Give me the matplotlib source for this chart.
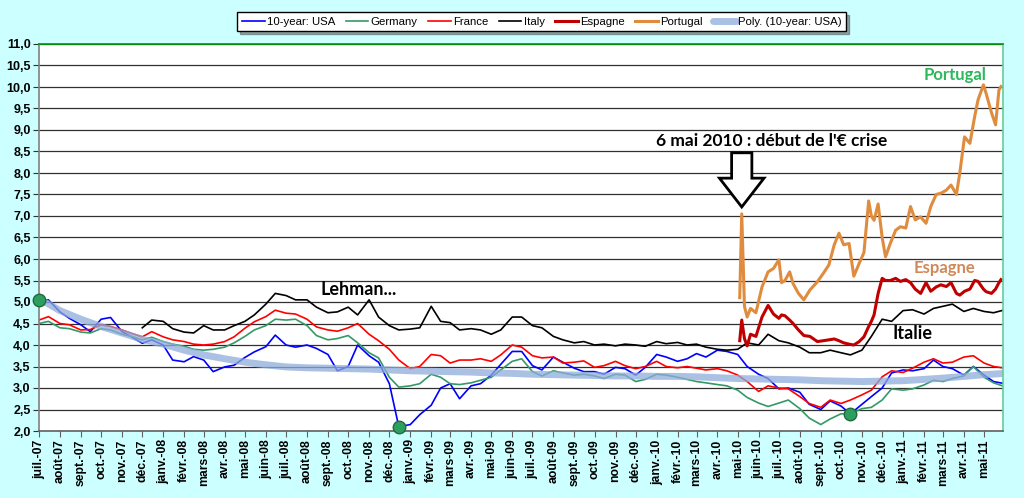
import matplotlib
matplotlib.use("Agg")
import matplotlib.pyplot as plt
import matplotlib.dates as mdates
from matplotlib.patches import FancyArrow
import numpy as np
import pandas as pd

nan = np.nan

# 10-year yields, semi-monthly readings (1st and 15th) from 1 juil. 2007
usa = [5.05, 5.05, 4.77, 4.62, 4.47, 4.31, 4.60, 4.64, 4.31, 4.19,
       4.04, 4.12, 4.00, 3.65, 3.61, 3.73, 3.65, 3.38, 3.49, 3.53,
       3.71, 3.84, 3.96, 4.23, 4.00, 3.95, 4.00, 3.92, 3.78, 3.40,
       3.50, 4.00, 3.75, 3.60, 3.10, 2.10, 2.15, 2.38, 2.60, 3.00,
       3.10, 2.75, 3.05, 3.10, 3.30, 3.55, 3.85, 3.85, 3.52, 3.42,
       3.72, 3.60, 3.46, 3.38, 3.38, 3.32, 3.48, 3.45, 3.30, 3.48,
       3.78, 3.72, 3.62, 3.68, 3.80, 3.72, 3.88, 3.85, 3.78, 3.50,
       3.32, 3.22, 2.98, 3.00, 2.90, 2.62, 2.50, 2.70, 2.58, 2.40,
       2.62, 2.80, 3.00, 3.35, 3.42, 3.40, 3.45, 3.65, 3.50, 3.45,
       3.30, 3.50, 3.30, 3.15, 3.10]
germany = [4.50, 4.55, 4.40, 4.38, 4.30, 4.28, 4.38, 4.35, 4.25, 4.20,
           4.12, 4.18, 4.08, 4.02, 3.97, 3.90, 3.88, 3.90, 3.95, 4.05,
           4.20, 4.35, 4.45, 4.60, 4.58, 4.60, 4.45, 4.22, 4.12, 4.15,
           4.22, 4.05, 3.82, 3.70, 3.25, 3.02, 3.05, 3.10, 3.32, 3.25,
           3.10, 3.08, 3.12, 3.18, 3.25, 3.42, 3.62, 3.68, 3.38, 3.28,
           3.40, 3.35, 3.30, 3.32, 3.28, 3.22, 3.32, 3.30, 3.15, 3.20,
           3.32, 3.30, 3.25, 3.20, 3.15, 3.12, 3.08, 3.05, 2.95, 2.78,
           2.65, 2.57, 2.65, 2.72, 2.52, 2.30, 2.15, 2.28, 2.40, 2.40,
           2.52, 2.55, 2.72, 2.98, 2.95, 2.98, 3.07, 3.18, 3.15, 3.22,
           3.28, 3.50, 3.25, 3.12, 3.03]
france = [4.58, 4.66, 4.50, 4.47, 4.35, 4.36, 4.47, 4.43, 4.35, 4.27,
          4.19, 4.31, 4.19, 4.12, 4.08, 4.02, 4.00, 4.02, 4.08, 4.19,
          4.39, 4.54, 4.66, 4.81, 4.74, 4.72, 4.60, 4.42, 4.35, 4.32,
          4.40, 4.50, 4.25, 4.10, 3.90, 3.65, 3.45, 3.50, 3.78, 3.75,
          3.58, 3.65, 3.65, 3.68, 3.62, 3.77, 4.00, 3.95, 3.75, 3.70,
          3.72, 3.58, 3.60, 3.63, 3.48, 3.52, 3.62, 3.52, 3.45, 3.50,
          3.62, 3.50, 3.47, 3.50, 3.46, 3.42, 3.45, 3.40, 3.30, 3.15,
          2.92, 3.05, 3.00, 2.98, 2.80, 2.64, 2.55, 2.72, 2.64, 2.72,
          2.84, 2.95, 3.26, 3.40, 3.36, 3.46, 3.60, 3.68, 3.58, 3.60,
          3.72, 3.75, 3.58, 3.50, 3.46]
italy = [nan, nan, nan, nan, nan, nan, nan, nan, nan, nan,
         4.40, 4.58, 4.55, 4.38, 4.30, 4.28, 4.45, 4.35, 4.35, 4.45,
         4.55, 4.70, 4.95, 5.20, 5.15, 5.05, 5.05, 4.88, 4.75, 4.77,
         4.88, 4.70, 5.05, 4.65, 4.45, 4.35, 4.37, 4.40, 4.90, 4.55,
         4.52, 4.35, 4.38, 4.35, 4.25, 4.35, 4.65, 4.65, 4.45, 4.40,
         4.20, 4.12, 4.05, 4.08, 4.00, 4.02, 3.98, 4.02, 4.00, 3.97,
         4.08, 4.03, 4.06, 4.00, 4.02, 3.95, 3.90, 3.88, 3.90, 4.05,
         4.00, 4.25, 4.10, 4.05, 3.95, 3.82, 3.82, 3.88, 3.82, 3.77,
         3.88, 4.20, 4.60, 4.55, 4.80, 4.82, 4.72, 4.85, 4.90, 4.95,
         4.78, 4.85, 4.78, 4.75, 4.82]

# Excel polynomial trend of the US series, monthly
trend_usa = [5.08, 4.80, 4.60, 4.43, 4.28, 4.13, 4.02, 3.88, 3.77, 3.68,
             3.60, 3.54, 3.49, 3.47, 3.46, 3.45, 3.44, 3.42, 3.40, 3.39,
             3.38, 3.37, 3.35, 3.34, 3.32, 3.31, 3.30, 3.29, 3.28, 3.28,
             3.27, 3.27, 3.26, 3.24, 3.22, 3.21, 3.20, 3.19, 3.17, 3.16,
             3.15, 3.16, 3.17, 3.20, 3.23, 3.27, 3.31, 3.34]

# Spain / Portugal only from May 2010
crise_dates = ["2010-05-04", "2010-05-07", "2010-05-11", "2010-05-15", "2010-05-20",
               "2010-05-28", "2010-06-06", "2010-06-15", "2010-06-23", "2010-07-01",
               "2010-07-05", "2010-07-10", "2010-07-17", "2010-07-22", "2010-07-30",
               "2010-08-07", "2010-08-16", "2010-08-27", "2010-09-05", "2010-09-13",
               "2010-09-21", "2010-09-28", "2010-10-05", "2010-10-13", "2010-10-20",
               "2010-10-28", "2010-11-04", "2010-11-11", "2010-11-15", "2010-11-19",
               "2010-11-25", "2010-12-01", "2010-12-06", "2010-12-13", "2010-12-21",
               "2010-12-28", "2011-01-05", "2011-01-12", "2011-01-19", "2011-01-27",
               "2011-02-04", "2011-02-11", "2011-02-19", "2011-02-26", "2011-03-06",
               "2011-03-13", "2011-03-21", "2011-03-26", "2011-04-02", "2011-04-10",
               "2011-04-17", "2011-04-22", "2011-04-30", "2011-05-04", "2011-05-12",
               "2011-05-18", "2011-05-23", "2011-05-26"]
espagne = [4.10, 4.58, 4.15, 3.98, 4.25, 4.20, 4.65, 4.92, 4.72, 4.62,
           4.70, 4.68, 4.58, 4.50, 4.35, 4.22, 4.20, 4.08, 4.10, 4.12,
           4.14, 4.10, 4.05, 4.02, 4.00, 4.08, 4.19, 4.43, 4.55, 4.70,
           5.20, 5.55, 5.50, 5.50, 5.55, 5.48, 5.52, 5.45, 5.30, 5.20,
           5.45, 5.25, 5.35, 5.40, 5.36, 5.45, 5.20, 5.16, 5.25, 5.30,
           5.50, 5.48, 5.30, 5.24, 5.20, 5.30, 5.45, 5.52]
portugal = [5.10, 7.05, 4.90, 4.65, 4.85, 4.75, 5.35, 5.70, 5.78, 5.98,
            5.45, 5.50, 5.70, 5.43, 5.20, 5.05, 5.28, 5.47, 5.67, 5.86,
            6.33, 6.60, 6.33, 6.36, 5.60, 5.90, 6.15, 7.35, 7.00, 6.90,
            7.28, 6.50, 6.05, 6.36, 6.67, 6.75, 6.72, 7.22, 6.91, 6.98,
            6.83, 7.22, 7.50, 7.53, 7.60, 7.72, 7.50, 8.00, 8.84, 8.69,
            9.31, 9.70, 10.05, 9.85, 9.40, 9.12, 9.93, 10.01]

mois = ["janv.", "févr.", "mars", "avr.", "mai", "juin",
        "juil.", "août", "sept.", "oct.", "nov.", "déc."]

dates = pd.date_range("2007-07-01", periods=len(usa), freq="SMS")
trend_dates = pd.date_range("2007-07-01", periods=len(trend_usa), freq="MS")
crise = pd.to_datetime(crise_dates)

fig = plt.figure(figsize=(10.24, 4.98), dpi=100, facecolor="#ccffff")
ax = fig.add_axes([39 / 1024, 1 - 431 / 498, (1003 - 39) / 1024, (431 - 44) / 498])
ax.set_facecolor("white")

ax.plot(dates, usa, color="#0000ff", lw=1.2, label="10-year: USA")
ax.plot(dates, germany, color="#339966", lw=1.2, label="Germany")
ax.plot(dates, france, color="#ff0000", lw=1.2, label="France")
ax.plot(dates, italy, color="black", lw=1.2, label="Italy")
ax.plot(crise, espagne, color="#c00000", lw=2.2, label="Espagne")
ax.plot(crise, portugal, color="#e08c3e", lw=2.2, label="Portugal")
ax.plot(trend_dates, trend_usa, color="#8eacdc", lw=5, alpha=0.75,
        solid_capstyle="round", label="Poly. (10-year: USA)")

# green dots on the US series: start, 2008 low, 2010 low
s = pd.Series(usa, index=dates)
pts = [s.index[0], s.idxmin(), s[s.index >= "2010-01-01"].idxmin()]
ax.plot(pts, s[pts].values, "o", color="#2e9e5e", mec="#1d6b3e", ms=9, zorder=5,
        clip_on=False)

ax.set_ylim(2, 11)
ax.set_yticks(np.arange(2, 11.01, 0.5))
ax.set_yticklabels([f"{v:.1f}".replace(".", ",") for v in np.arange(2, 11.01, 0.5)])
ax.grid(axis="y", color="#303030", lw=0.9)
ax.set_axisbelow(True)

ax.set_xlim(pd.Timestamp("2007-07-01"), pd.Timestamp("2011-05-29"))
ticks = pd.date_range("2007-07-01", "2011-05-01", freq="MS")
ax.set_xticks(ticks)
ax.set_xticklabels([f"{mois[d.month - 1]}-{d.year % 100:02d}" for d in ticks], rotation=90)

for lab in ax.get_xticklabels() + ax.get_yticklabels():
    lab.set_fontweight("bold")
    lab.set_fontfamily("Liberation Sans")
ax.tick_params(axis="x", labelsize=8.8, length=4, color="#606060", pad=2)
ax.tick_params(axis="y", labelsize=9, length=4, color="#303030", pad=2)

ax.spines["left"].set_color("#808080")
ax.spines["bottom"].set_color("#606060")
ax.spines["top"].set_color("#009900")
ax.spines["right"].set_color("#66cc99")
for sp in ax.spines.values():
    sp.set_linewidth(1.2)

# annotations
afont = ["Lato", "DejaVu Sans"]
ax.text(pd.Timestamp("2008-08-21"), 5.16, "Lehman...", fontsize=13, fontweight="bold",
        family=afont, va="baseline")
ax.text(pd.Timestamp("2009-12-31"), 8.63, "6 mai 2010 : début de l'€ crise", fontsize=12.5,
        fontweight="bold", family=afont, va="baseline")
ax.text(pd.Timestamp("2011-02-01"), 10.16, "Portugal", fontsize=12, fontweight="bold",
        family=afont, color="#2eb85c", va="baseline")
ax.text(pd.Timestamp("2011-01-17"), 5.68, "Espagne", fontsize=12, fontweight="bold",
        family=afont, color="#d08a5a", va="baseline")
ax.text(pd.Timestamp("2010-12-17"), 4.13, "Italie", fontsize=13, fontweight="bold",
        family=afont, va="baseline")

ax.add_patch(FancyArrow(mdates.date2num(pd.Timestamp("2010-05-07")), 8.47, 0, -1.26,
                        width=30, head_width=66, head_length=0.67, length_includes_head=True,
                        facecolor="white", edgecolor="black", lw=2, zorder=6))

leg = fig.legend(loc="center", bbox_to_anchor=(0.529, 0.956), ncol=7,
                 frameon=True, fancybox=False, shadow=True, edgecolor="black",
                 handlelength=2.0, handletextpad=0.2, columnspacing=0.9,
                 borderpad=0.4, prop={"family": "Liberation Sans", "size": 8.2})
leg.get_frame().set_linewidth(1.0)

fig.savefig("out.png", dpi=100, facecolor=fig.get_facecolor())
